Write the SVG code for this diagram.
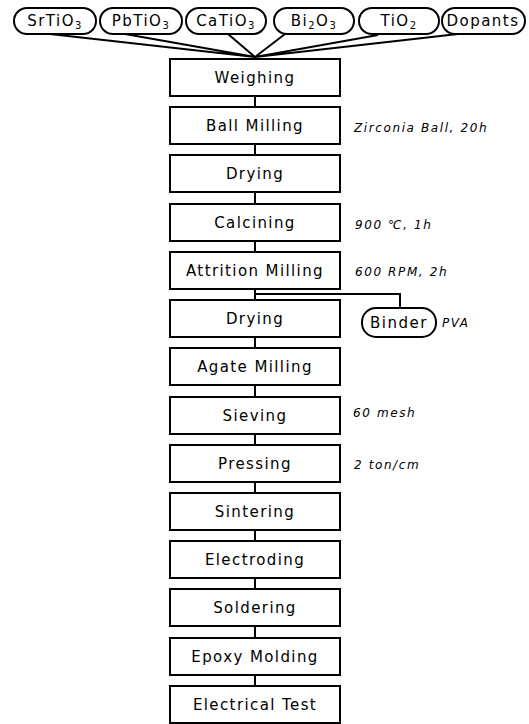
<svg xmlns="http://www.w3.org/2000/svg" width="529" height="724" viewBox="0 0 529 724">
<style>
.box{fill:#fff;stroke:#000;stroke-width:2}
.pill{fill:#fff;stroke:#000;stroke-width:2}
.t{font-family:"DejaVu Sans","Liberation Sans",sans-serif;font-size:15px;letter-spacing:1.4px;text-anchor:middle;fill:#000}
.p{font-family:"DejaVu Sans","Liberation Sans",sans-serif;font-size:15px;letter-spacing:1.5px;text-anchor:middle;fill:#000}
.a{font-family:"DejaVu Sans","Liberation Sans",sans-serif;font-size:12px;font-style:italic;letter-spacing:1.6px;fill:#000}
.sub{font-size:10px}
.c{fill:none;stroke:#000;stroke-width:2}
</style>
<rect width="529" height="724" fill="#fff"/>
<g id="connectors">
<path class="c" d="M50,34 L255,57 M125,34 L255,57 M228,34 L255,57 M285,34 L255,57 M378,35 L255,57 M458,34 L255,57 M255,57 V59"/>
<path class="c" d="M255,96 V108 M255,144 V156 M255,192 V204 M255,241 V253 M255,289 V301 M255,337 V349 M255,385 V397 M255,434 V446 M255,482 V494 M255,530 V542 M255,578 V590 M255,626 V638 M255,675 V687"/>
<path class="c" d="M255,294 H400 V308"/>
</g>
<g id="srtio3"><rect class="pill" x="14" y="8" width="82" height="26" rx="13"/><text class="p" x="55" y="26">SrTiO<tspan class="sub" dy="3">3</tspan></text></g>
<g id="pbtio3"><rect class="pill" x="100" y="8" width="82" height="26" rx="13"/><text class="p" x="141" y="26">PbTiO<tspan class="sub" dy="3">3</tspan></text></g>
<g id="catio3"><rect class="pill" x="186" y="8" width="80" height="26" rx="13"/><text class="p" x="226" y="26">CaTiO<tspan class="sub" dy="3">3</tspan></text></g>
<g id="bi2o3"><rect class="pill" x="274" y="8" width="80" height="26" rx="13"/><text class="p" x="314" y="26">Bi<tspan class="sub" dy="3">2</tspan><tspan dy="-3">O</tspan><tspan class="sub" dy="3">3</tspan></text></g>
<g id="tio2"><rect class="pill" x="359" y="8" width="80" height="26" rx="13"/><text class="p" x="399" y="26">TiO<tspan class="sub" dy="3">2</tspan></text></g>
<g id="dopants"><rect class="pill" x="442" y="8" width="83" height="26" rx="13"/><text class="p" x="483" y="26">Dopants</text></g>

<g id="weighing"><rect class="box" x="170" y="59" width="170" height="37"/><text class="t" x="255" y="83">Weighing</text></g>
<g id="ballmilling"><rect class="box" x="170" y="107" width="170" height="37"/><text class="t" x="255" y="131">Ball Milling</text></g>
<g id="drying1"><rect class="box" x="170" y="155" width="170" height="37"/><text class="t" x="255" y="179">Drying</text></g>
<g id="calcining"><rect class="box" x="170" y="204" width="170" height="37"/><text class="t" x="255" y="228">Calcining</text></g>
<g id="attrition"><rect class="box" x="170" y="252" width="170" height="37"/><text class="t" x="255" y="276">Attrition Milling</text></g>
<g id="drying2"><rect class="box" x="170" y="300" width="170" height="37"/><text class="t" x="255" y="324">Drying</text></g>
<g id="agate"><rect class="box" x="170" y="348" width="170" height="37"/><text class="t" x="255" y="372">Agate Milling</text></g>
<g id="sieving"><rect class="box" x="170" y="397" width="170" height="37"/><text class="t" x="255" y="421">Sieving</text></g>
<g id="pressing"><rect class="box" x="170" y="445" width="170" height="37"/><text class="t" x="255" y="469">Pressing</text></g>
<g id="sintering"><rect class="box" x="170" y="493" width="170" height="37"/><text class="t" x="255" y="517">Sintering</text></g>
<g id="electroding"><rect class="box" x="170" y="541" width="170" height="37"/><text class="t" x="255" y="565">Electroding</text></g>
<g id="soldering"><rect class="box" x="170" y="589" width="170" height="37"/><text class="t" x="255" y="613">Soldering</text></g>
<g id="epoxy"><rect class="box" x="170" y="638" width="170" height="37"/><text class="t" x="255" y="662">Epoxy Molding</text></g>
<g id="test"><rect class="box" x="170" y="686" width="170" height="37"/><text class="t" x="255" y="710">Electrical Test</text></g>

<g id="binder"><rect class="pill" x="362" y="308" width="74" height="29" rx="14"/><text class="p" x="399" y="328">Binder</text></g>

<g id="annotations">
<text class="a" x="354" y="132">Zirconia Ball, 20h</text>
<text class="a" x="355" y="229">900 ℃, 1h</text>
<text class="a" x="355" y="276">600 RPM, 2h</text>
<text class="a" x="442" y="327">PVA</text>
<text class="a" x="353" y="417">60 mesh</text>
<text class="a" x="354" y="469">2 ton/cm</text>
</g>
</svg>
